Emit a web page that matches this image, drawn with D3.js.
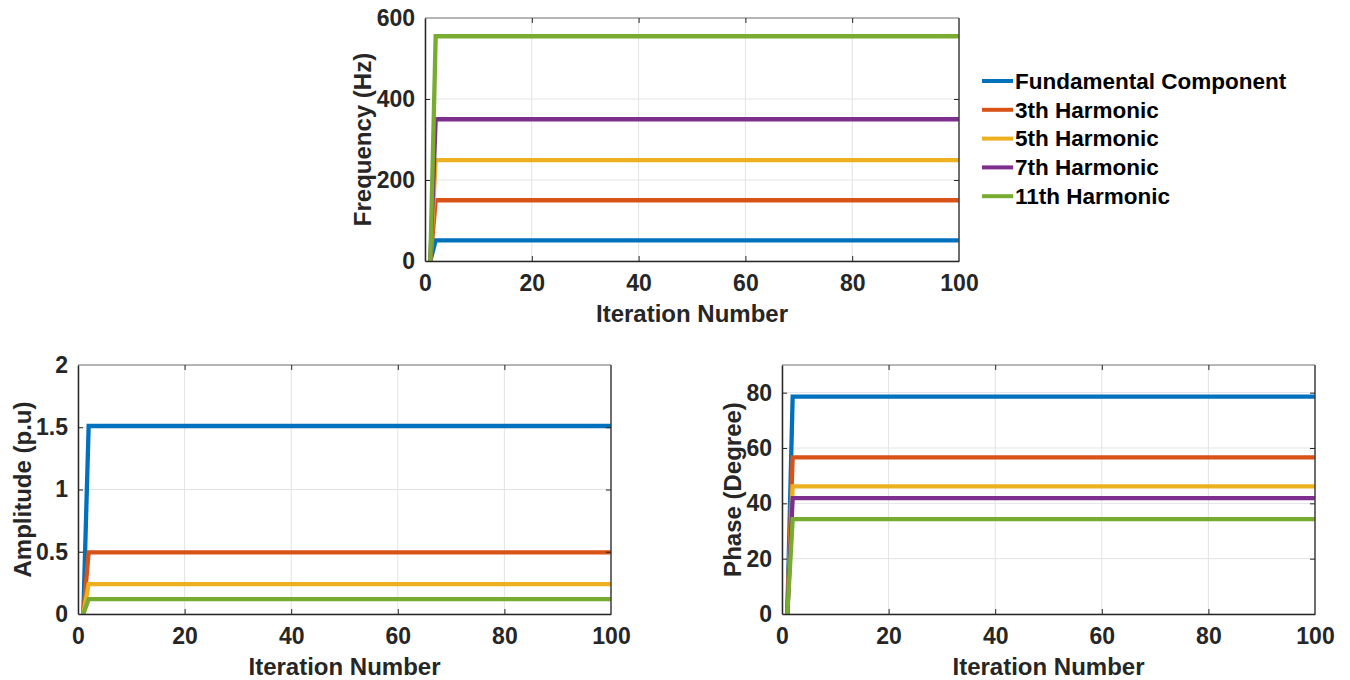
<!DOCTYPE html>
<html>
<head>
<meta charset="utf-8">
<script src="https://cdn.jsdelivr.net/npm/d3@7"></script>
<style>
  html, body { margin: 0; padding: 0; background: #fff; }
  svg { display: block; font-family: "Liberation Sans", Arial, Helvetica, sans-serif; }
</style>
</head>
<body>
<svg id="chart" width="1350" height="680"></svg>
<script>
// Iterations at which the estimates change: start, first update, final iteration
const iterationKnots = [1, 2, 100];

const seriesNames = ["Fundamental Component", "3th Harmonic", "5th Harmonic", "7th Harmonic", "11th Harmonic"];
const seriesColors = ["#0072BD", "#D95319", "#EDB120", "#7E2F8E", "#77AC30"];

// Estimated values at each knot (start, after first update, final)
const frequencyHz = [
  [0, 51, 51],
  [0, 150, 150],
  [0, 249, 249],
  [0, 350, 350],
  [0, 555, 555]
];
const frequencySeries = [0, 1, 2, 3, 4];

const amplitudePu = [
  [0, 1.51, 1.51],
  [0, 0.495, 0.495],
  [0, 0.24, 0.24],
  [0, 0.12, 0.12]
];
const amplitudeSeries = [0, 1, 2, 4];

const phaseDeg = [
  [0, 78.6, 78.6],
  [0, 56.6, 56.6],
  [0, 46.1, 46.1],
  [0, 41.9, 41.9],
  [0, 34.3, 34.3]
];
const phaseSeries = [0, 1, 2, 3, 4];

const xTicks = [0, 20, 40, 60, 80, 100];
const freqTicks = [0, 200, 400, 600];
const ampTicks = [0, 0.5, 1, 1.5, 2];
const phaseTicks = [0, 20, 40, 60, 80];

const svg = d3.select("#chart");
const axisColor = "#262626";

function drawPanel(opts) {
  const { left, right, top, bottom, yDomain, yTicks, yFormat, data, series, yLabel } = opts;
  const g = svg.append("g");
  const x = d3.scaleLinear().domain([0, 100]).range([left, right]);
  const y = d3.scaleLinear().domain(yDomain).range([bottom, top]);

  // grid
  g.append("g").selectAll("line").data(xTicks).join("line")
    .attr("x1", d => x(d)).attr("x2", d => x(d))
    .attr("y1", top).attr("y2", bottom)
    .attr("stroke", "#e3e3e3").attr("stroke-width", 1);
  g.append("g").selectAll("line").data(yTicks).join("line")
    .attr("x1", left).attr("x2", right)
    .attr("y1", d => y(d)).attr("y2", d => y(d))
    .attr("stroke", "#e3e3e3").attr("stroke-width", 1);

  // series lines
  const line = d3.line().x((d, i) => x(iterationKnots[i])).y(d => y(d));
  g.append("g").selectAll("path").data(data).join("path")
    .attr("d", d => line(d))
    .attr("fill", "none")
    .attr("stroke", (d, i) => seriesColors[series[i]])
    .attr("stroke-width", 4.3)
    .attr("stroke-linejoin", "miter");

  // box: top edge lighter
  g.append("line").attr("x1", left).attr("x2", right).attr("y1", top).attr("y2", top)
    .attr("stroke", "#a0a0a0").attr("stroke-width", 1.5);
  g.append("line").attr("x1", right).attr("x2", right).attr("y1", top).attr("y2", bottom)
    .attr("stroke", "#404040").attr("stroke-width", 1.5);

  // axes with inward ticks
  const xAxis = d3.axisBottom(x).tickValues(xTicks).tickSize(-5).tickPadding(14).tickSizeOuter(0);
  const xg = g.append("g").attr("transform", `translate(0,${bottom})`).call(xAxis);
  const xAxisTop = d3.axisTop(x).tickValues(xTicks).tickSize(-5).tickFormat("").tickSizeOuter(0);
  const xgt = g.append("g").attr("transform", `translate(0,${top})`).call(xAxisTop);
  const yAxis = d3.axisLeft(y).tickValues(yTicks).tickFormat(yFormat).tickSize(-5).tickPadding(10).tickSizeOuter(0);
  const yg = g.append("g").attr("transform", `translate(${left},0)`).call(yAxis);
  const yAxisRight = d3.axisRight(y).tickValues(yTicks).tickFormat("").tickSize(-5).tickSizeOuter(0);
  const ygr = g.append("g").attr("transform", `translate(${right},0)`).call(yAxisRight);

  [xg, yg].forEach(a => {
    a.select(".domain").attr("stroke", axisColor).attr("stroke-width", 1.5);
    a.selectAll(".tick line").attr("stroke", axisColor);
    a.selectAll(".tick text").attr("fill", axisColor)
      .style("font-size", "23px").style("font-weight", "bold");
  });
  xgt.select(".domain").remove();
  ygr.select(".domain").remove();
  [xgt, ygr].forEach(a => a.selectAll(".tick line").attr("stroke", axisColor));
  // hide ticks sitting on the box corners
  [xg, xgt].forEach(a => a.selectAll(".tick line").filter(d => d === 0 || d === 100).remove());
  [yg, ygr].forEach(a => a.selectAll(".tick line").filter(d => d === yDomain[0] || d === yDomain[1]).remove());

  // axis titles
  g.append("text")
    .attr("x", (left + right) / 2).attr("y", bottom + 61)
    .attr("text-anchor", "middle")
    .attr("fill", axisColor)
    .style("font-size", "24px").style("font-weight", "bold")
    .text("Iteration Number");
  g.append("text")
    .attr("transform", `translate(${opts.yLabelX},${(top + bottom) / 2}) rotate(-90)`)
    .attr("text-anchor", "middle")
    .attr("fill", axisColor)
    .style("font-size", "24px").style("font-weight", "bold")
    .text(yLabel);
}

drawPanel({
  left: 425, right: 959, top: 18, bottom: 261,
  yDomain: [0, 600], yTicks: freqTicks, yFormat: d3.format("d"),
  data: frequencyHz, series: frequencySeries, yLabel: "Frequency (Hz)", yLabelX: 371
});
drawPanel({
  left: 78, right: 611, top: 365, bottom: 614,
  yDomain: [0, 2], yTicks: ampTicks, yFormat: d => String(d),
  data: amplitudePu, series: amplitudeSeries, yLabel: "Amplitude (p.u)", yLabelX: 31
});
drawPanel({
  left: 782, right: 1315, top: 365, bottom: 614,
  yDomain: [0, 90], yTicks: phaseTicks, yFormat: d3.format("d"),
  data: phaseDeg, series: phaseSeries, yLabel: "Phase (Degree)", yLabelX: 741
});

// legend for the frequency panel
const legend = svg.append("g").attr("transform", "translate(982,81)");
const rows = legend.selectAll("g").data(seriesNames).join("g")
  .attr("transform", (d, i) => `translate(0,${i * 28.8})`);
rows.append("line")
  .attr("x1", 0).attr("x2", 31).attr("y1", 0).attr("y2", 0)
  .attr("stroke", (d, i) => seriesColors[i]).attr("stroke-width", 4);
rows.append("text")
  .attr("x", 33).attr("y", 0).attr("dy", "0.35em")
  .attr("fill", "#000")
  .style("font-size", "22.5px").style("font-weight", "bold")
  .text(d => d);
</script>
</body>
</html>
